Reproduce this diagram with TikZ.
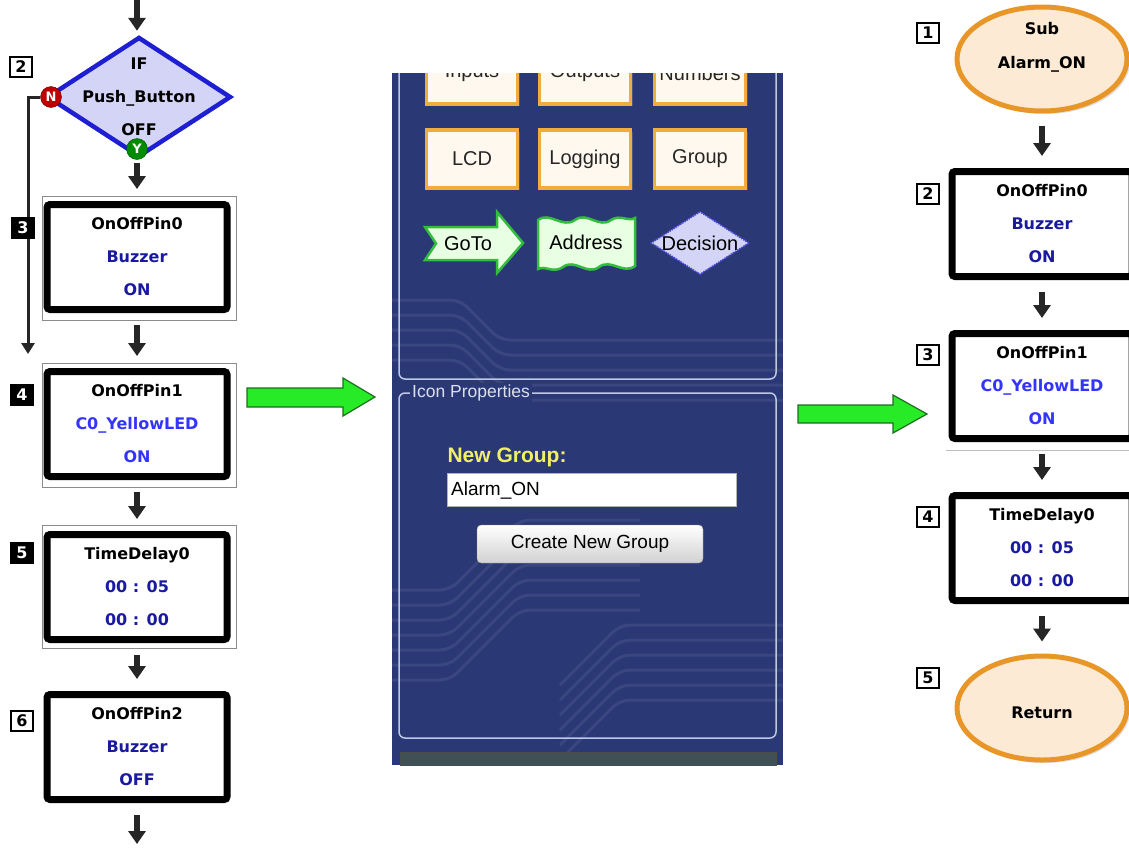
\documentclass[tikz,border=0pt]{standalone}
\usepackage{fontspec}
\setmainfont{Liberation Sans}
\newfontfamily\chartfont{DejaVu Sans}
\usetikzlibrary{arrows.meta,shapes.geometric,shadows}

\definecolor{pinblue}{RGB}{26,26,160}
\definecolor{ledblue}{RGB}{52,52,255}
\definecolor{decfill}{RGB}{212,212,246}
\definecolor{decdraw}{RGB}{30,30,210}
\definecolor{ovalfill}{RGB}{252,234,212}
\definecolor{ovaldraw}{RGB}{232,150,40}
\definecolor{panelbg}{RGB}{42,56,118}
\definecolor{tilefill}{RGB}{255,248,238}
\definecolor{tiledraw}{RGB}{240,172,60}
\definecolor{arrowfill}{RGB}{40,235,40}
\definecolor{arrowdraw}{RGB}{30,110,30}
\definecolor{gotofill}{RGB}{232,255,228}
\definecolor{gotodraw}{RGB}{50,190,60}
\definecolor{framegrey}{RGB}{190,200,228}
\definecolor{titlegrey}{RGB}{220,224,236}
\definecolor{newyellow}{RGB}{240,240,100}
\definecolor{footgrey}{RGB}{62,80,84}

\begin{document}
\begin{tikzpicture}[x=1pt,y=-1pt,
  flowbox/.style={draw=black, line width=7pt, rounded corners=3pt, fill=white,
    minimum width=180pt, minimum height=105pt, inner sep=0pt, align=center,
    font=\chartfont\bfseries\fontsize{16}{33}\selectfont,
    drop shadow={shadow xshift=3pt, shadow yshift=-3pt, opacity=0.35}},
  oval/.style={ellipse, draw=ovaldraw, line width=5pt, fill=ovalfill,
    minimum width=170pt, minimum height=104pt, inner sep=0pt,
    drop shadow={shadow xshift=3pt, shadow yshift=-3pt, opacity=0.25}},
  ovaltext/.style={align=center, font=\chartfont\bfseries\fontsize{16}{34}\selectfont},
  numbox/.style={draw=black, line width=1.3pt, fill=white, minimum width=22pt,
    minimum height=20pt, inner sep=0pt, font=\chartfont\bfseries\fontsize{16}{16}\selectfont},
  numboxdark/.style={numbox, fill=black, text=white},
  branchdot/.style={circle, minimum size=21pt, inner sep=0pt, text=white,
    font=\chartfont\bfseries\fontsize{13}{13}\selectfont},
  flow/.style={draw=black!85, line width=6pt, -{Triangle[width=17pt,length=13pt]},
    shorten <=12pt, shorten >=12pt},
  selframe/.style={draw=black!45, line width=0.8pt},
  tile/.style={draw=tiledraw, line width=3.5pt, fill=tilefill, minimum width=91pt,
    minimum height=58pt, text=black!85, font=\fontsize{20}{20}\selectfont,
    drop shadow={shadow xshift=2pt, shadow yshift=-2pt, opacity=0.4}},
  bigarrow/.style={draw=arrowdraw, line width=1.2pt, fill=arrowfill},
  trace/.style={draw=white, opacity=0.07, line width=3pt, rounded corners=10pt}]
\useasboundingbox (0,0) rectangle (1129,849);

% left flowchart
\coordinate (top0) at (137,-2);
\node[diamond, draw=decdraw, line width=4.5pt, fill=decfill, minimum width=184pt,
  minimum height=120pt, inner sep=0pt,
  label={[align=center, font=\chartfont\bfseries\fontsize{16}{33}\selectfont]center:IF\\Push\_Button\\OFF}]
  (dec) at (139,97) {};
\node[branchdot, fill=red!75!black, draw=red!40!black] (ndot) at (51,97) {N};
\node[branchdot, fill=green!55!black, draw=green!30!black] (ydot) at (137,149) {Y};
\coordinate (nend) at (28,354);
\draw[selframe] (42,196) rectangle (236,320);
\draw[selframe] (42,363) rectangle (236,487);
\draw[selframe] (42,525) rectangle (236,648);
\node[flowbox] (b3) at (137,257) {OnOffPin0\\\textcolor{pinblue}{Buzzer}\\\textcolor{pinblue}{ON}};
\node[flowbox] (b4) at (137,424) {OnOffPin1\\\textcolor{ledblue}{C0\_YellowLED}\\\textcolor{ledblue}{ON}};
\node[flowbox] (b5) at (137,587) {TimeDelay0\\\textcolor{pinblue}{00 : 05}\\\textcolor{pinblue}{00 : 00}};
\node[flowbox] (b6) at (137,747) {OnOffPin2\\\textcolor{pinblue}{Buzzer}\\\textcolor{pinblue}{OFF}};
\coordinate (bot) at (137,849);
\path
  (top0) edge[flow, shorten <=0pt, shorten >=4pt] (top0 |- dec.north)
  (ydot.south) edge[flow, shorten <=3pt] (b3.north)
  (b3.south) edge[flow] (b4.north)
  (b4.south) edge[flow] (b5.north)
  (b5.south) edge[flow] (b6.north)
  (b6.south) edge[flow, shorten >=5pt] (bot)
;
\draw[flow, line width=3pt, -{Triangle[width=13pt,length=11pt]}, shorten <=0pt,
  shorten >=0pt] (ndot.west) -| (nend);
\node[numbox] (ln2) at (21,67) {2};
\node[numboxdark] (ln3) at (23,228) {3};
\node[numboxdark] (ln4) at (22,395) {4};
\node[numboxdark] (ln5) at (22,553) {5};
\node[numbox] (ln6) at (22,721) {6};

% green arrows
\draw[bigarrow] (247,388) -- (343,388) -- (343,378) -- (375,397) -- (343,416)
  -- (343,407) -- (247,407) -- cycle;
\draw[bigarrow] (798,405) -- (893,405) -- (893,395) -- (927,414) -- (893,433)
  -- (893,423) -- (798,423) -- cycle;

% middle panel
\begin{scope}
\clip (392,73) rectangle (783,765);
\fill[panelbg] (392,73) rectangle (783,765);
\foreach \k in {0,...,6}
  \draw[trace] (392,590+\k*15) -- (450,590+\k*15) -- (520,520+\k*15) -- (640,520+\k*15);
\foreach \k in {0,...,5}
  \draw[trace] (560,760-\k*15) -- (620,700-\k*15) -- (783,700-\k*15);
\foreach \k in {0,...,4}
  \draw[trace] (392,300+\k*15) -- (460,300+\k*15) -- (500,340+\k*15) -- (783,340+\k*15);
\draw[draw=framegrey, line width=1.5pt, rounded corners=6pt] (399,40) rectangle (776,379);
\node[tile, minimum height=62pt] (tInputs) at (472,73) {Inputs};
\node[tile, minimum height=62pt] (tOutputs) at (585,73) {Outputs};
\node[tile, minimum height=62pt] (tNumbers) at (700,73) {Numbers};
\node[tile] (tLcd) at (472,159) {LCD};
\node[tile] (tLogging) at (585,159) {Logging};
\node[tile] (tGroup) at (700,159) {Group};
\draw[draw=gotodraw, line width=2.5pt, fill=gotofill] (425,227) -- (497,227) -- (497,212)
  -- (523,243) -- (497,273) -- (497,260) -- (425,260) -- (436,243.5) -- cycle;
\node[font=\fontsize{20}{20}\selectfont] (tGoto) at (468,244) {GoTo};
\draw[draw=gotodraw, line width=2.5pt, fill=gotofill]
  (538,220) .. controls (550,211) and (562,229) .. (575,220)
  .. controls (587,211) and (599,229) .. (611,220)
  .. controls (620,214) and (628,222) .. (635,218) -- (635,266)
  .. controls (623,275) and (611,258) .. (599,267)
  .. controls (587,276) and (575,258) .. (563,267)
  .. controls (553,274) and (545,265) .. (538,269) -- cycle;
\node[font=\fontsize{20}{20}\selectfont] (tAddr) at (586,242) {Address};
\node[diamond, draw=decdraw!80!white, densely dotted, line width=1.5pt, fill=decfill,
  minimum width=98pt, minimum height=63pt, inner sep=0pt,
  label={[font=\fontsize{20}{20}\selectfont]center:Decision}] (tDec) at (700,243) {};
\draw[draw=framegrey, line width=1.5pt, rounded corners=6pt] (399,393) rectangle (776,738);
\node[anchor=west, fill=panelbg, inner sep=2pt, text=titlegrey,
  font=\fontsize{17.5}{17.5}\selectfont] (lIcon) at (410,393) {Icon Properties};
\node[anchor=west, text=newyellow, font=\bfseries\fontsize{21}{21}\selectfont]
  (lNew) at (444,457) {New Group:};
\node[anchor=west, fill=white, draw=black!30, minimum height=33pt, text width=281pt,
  inner xsep=4pt, align=left, font=\fontsize{19}{19}\selectfont] (fName) at (447,490) {Alarm\_ON};
\node[draw=black!45, rounded corners=4pt, top color=white, bottom color=black!18,
  minimum width=226pt, minimum height=38pt, font=\fontsize{19}{19}\selectfont]
  (bCreate) at (590,544) {Create New Group};
\fill[footgrey] (400,752) rectangle (776,790);
\draw[black!70, line width=1pt] (400,752) rectangle (776,790);
\end{scope}

% right flowchart
\node[oval] (r1) at (1042,59) {};
\node[ovaltext] (r1t) at (1042,47) {Sub\\Alarm\_ON};
\node[flowbox] (r2) at (1042,224) {OnOffPin0\\\textcolor{pinblue}{Buzzer}\\\textcolor{pinblue}{ON}};
\node[flowbox] (r3) at (1042,386) {OnOffPin1\\\textcolor{ledblue}{C0\_YellowLED}\\\textcolor{ledblue}{ON}};
\draw[selframe, draw=black!25] (946,450) -- (1136,450);
\node[flowbox] (r4) at (1042,548) {TimeDelay0\\\textcolor{pinblue}{00 : 05}\\\textcolor{pinblue}{00 : 00}};
\node[oval] (r5) at (1042,708) {};
\node[ovaltext] (r5t) at (1042,713) {Return};
\path
  (r1.south) edge[flow] (r2.north)
  (r2.south) edge[flow] (r3.north)
  (r3.south) edge[flow] (r4.north)
  (r4.south) edge[flow] (r5.north)
;
\node[numbox] (rn1) at (928,33) {1};
\node[numbox] (rn2) at (928,194) {2};
\node[numbox] (rn3) at (928,355) {3};
\node[numbox] (rn4) at (928,517) {4};
\node[numbox] (rn5) at (928,678) {5};
\end{tikzpicture}
\end{document}
